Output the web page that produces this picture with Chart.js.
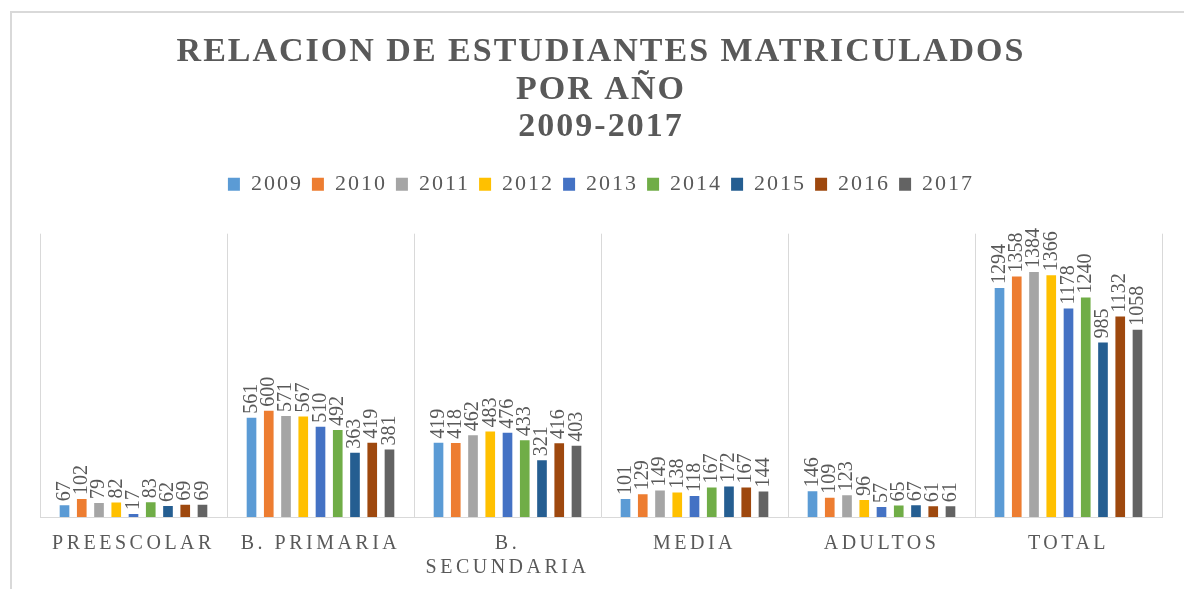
<!DOCTYPE html>
<html lang="es">
<head>
<meta charset="utf-8">
<title>Relacion de estudiantes matriculados por año</title>
<script src="https://cdn.jsdelivr.net/npm/chart.js@4.4.1/dist/chart.umd.min.js"></script>
<style>
  html, body { margin: 0; padding: 0; background: #fff; overflow: hidden; }
  #frame { position: absolute; left: 10px; top: 11px; width: 1300px; height: 700px; border: 2px solid #d9d9d9; }
  #wrap { position: absolute; left: 0; top: 0; width: 1184px; height: 589px; }
</style>
</head>
<body>
<div id="frame"></div>
<div id="wrap"><canvas id="matriculaChart"></canvas></div>
<script>
const titleLines = ['RELACION DE ESTUDIANTES MATRICULADOS', 'POR AÑO', '2009-2017'];
const categories = ['PREESCOLAR', 'B. PRIMARIA', ['B.', 'SECUNDARIA'], 'MEDIA', 'ADULTOS', 'TOTAL'];
const years = ['2009', '2010', '2011', '2012', '2013', '2014', '2015', '2016', '2017'];

// one array per year, same order as categories
const y2009 = [67, 561, 419, 101, 146, 1294];
const y2010 = [102, 600, 418, 129, 109, 1358];
const y2011 = [79, 571, 462, 149, 123, 1384];
const y2012 = [82, 567, 483, 138, 96, 1366];
const y2013 = [17, 510, 476, 118, 57, 1178];
const y2014 = [83, 492, 433, 167, 65, 1240];
const y2015 = [62, 363, 321, 172, 67, 985];
const y2016 = [69, 419, 416, 167, 61, 1132];
const y2017 = [69, 381, 403, 144, 61, 1058];

const yearValues = [y2009, y2010, y2011, y2012, y2013, y2014, y2015, y2016, y2017];
const colors = ['#5b9bd5', '#ed7d31', '#a5a5a5', '#ffc000', '#4472c4', '#70ad47', '#255e91', '#9e480e', '#636363'];

const textGray = '#595959';
const serif = '"Liberation Serif", "Times New Roman", serif';

// letter spacing: a little everywhere, wider for the category labels
const spacingPlugin = {
    id: 'spacing',
    beforeLayout(chart) { chart.ctx.letterSpacing = '2px'; },
    beforeDraw(chart) { chart.ctx.letterSpacing = '2px'; },
    afterDraw(chart) { chart.ctx.letterSpacing = '2px'; }
};

// rotated value labels above every bar
const barLabels = {
    id: 'barLabels',
    afterDatasetsDraw(chart) {
        const ctx = chart.ctx;
        ctx.save();
        ctx.letterSpacing = '0px';
        ctx.font = '20px ' + serif;
        ctx.fillStyle = textGray;
        ctx.textAlign = 'left';
        ctx.textBaseline = 'middle';
        chart.data.datasets.forEach((ds, i) => {
            chart.getDatasetMeta(i).data.forEach((bar, j) => {
                ctx.save();
                ctx.translate(bar.x, bar.y - 4);
                ctx.rotate(-Math.PI / 2);
                ctx.fillText(String(ds.data[j]), 0, 0);
                ctx.restore();
            });
        });
        ctx.restore();
        // x tick labels are drawn after this (ticks.z: 1)
        ctx.letterSpacing = '3.5px';
    }
};

const ctx = document.getElementById('matriculaChart').getContext('2d');
new Chart(ctx, {
    type: 'bar',
    data: {
        labels: categories,
        datasets: years.map((year, i) => ({
            label: year,
            data: yearValues[i],
            backgroundColor: colors[i],
            borderWidth: 0,
            categoryPercentage: 0.83,
            barPercentage: 0.56
        }))
    },
    options: {
        responsive: true,
        maintainAspectRatio: false,
        animation: false,
        layout: { padding: { left: 40, right: 22, top: 0, bottom: -6 } },
        plugins: {
            title: {
                display: true,
                text: titleLines,
                color: textGray,
                font: { family: serif, size: 34, weight: 'bold', lineHeight: 1.1 },
                padding: { top: 34, bottom: 18 }
            },
            legend: {
                display: true,
                position: 'top',
                labels: {
                    color: textGray,
                    font: { family: serif, size: 22 },
                    boxWidth: 12,
                    boxHeight: 13,
                    padding: 9
                }
            },
            // empty spacer between legend and plot
            subtitle: {
                display: true,
                text: '',
                weight: 500,
                font: { size: 10, lineHeight: 1 },
                padding: { top: 0, bottom: 18.5 }
            },
            tooltip: { enabled: false }
        },
        scales: {
            x: {
                grid: { display: true, offset: true, color: '#d9d9d9', drawTicks: false, lineWidth: 1 },
                border: { display: true, color: '#d9d9d9', width: 1 },
                ticks: {
                    z: 1,
                    color: textGray,
                    font: { family: serif, size: 20, lineHeight: 1.2 },
                    padding: 15,
                    autoSkip: false,
                    maxRotation: 0,
                    minRotation: 0
                }
            },
            y: {
                display: false,
                min: 0,
                max: 1600
            }
        }
    },
    plugins: [spacingPlugin, barLabels]
});
</script>
</body>
</html>
